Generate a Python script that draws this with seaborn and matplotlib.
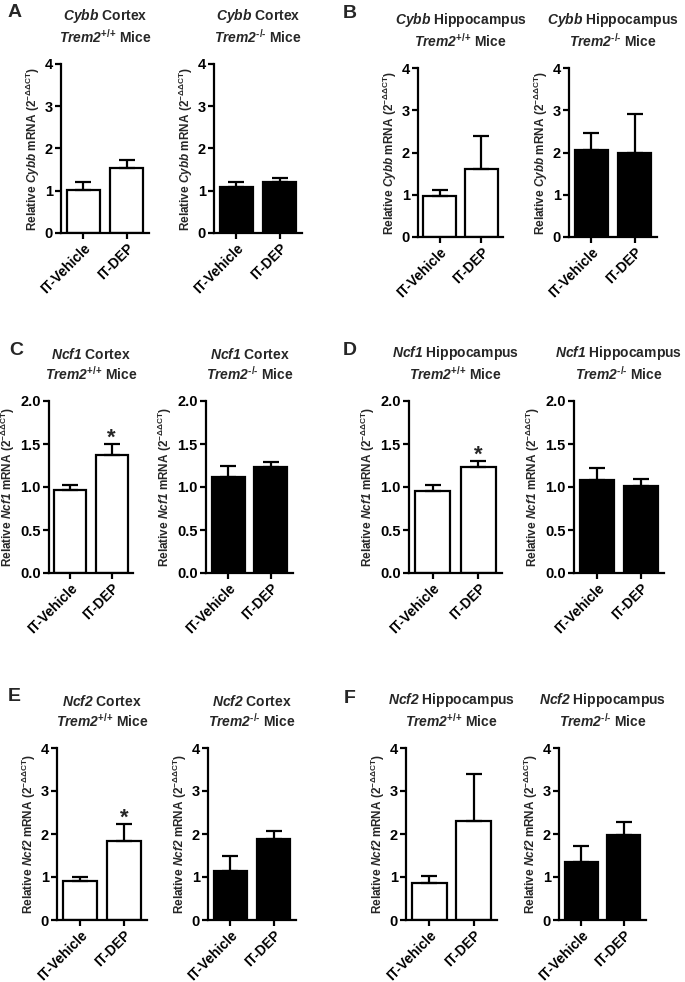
# Cybb / Ncf1 / Ncf2 expression, IT-Vehicle vs IT-DEP, Trem2 WT and KO mice
import numpy as np
import pandas as pd
import matplotlib
matplotlib.use('Agg')
import matplotlib.pyplot as plt
import seaborn as sns

# Data (mean and upper SEM)
groups = ['IT-Vehicle', 'IT-DEP']

cybb_cortex_wt = [1.01, 1.54]
cybb_cortex_wt_err = [0.19, 0.19]
cybb_cortex_ko = [1.09, 1.20]
cybb_cortex_ko_err = [0.12, 0.09]
cybb_hippo_wt = [0.96, 1.61]
cybb_hippo_wt_err = [0.16, 0.78]
cybb_hippo_ko = [2.06, 2.00]
cybb_hippo_ko_err = [0.41, 0.92]

ncf1_cortex_wt = [0.97, 1.37]
ncf1_cortex_wt_err = [0.05, 0.13]
ncf1_cortex_ko = [1.12, 1.23]
ncf1_cortex_ko_err = [0.13, 0.06]
ncf1_hippo_wt = [0.95, 1.23]
ncf1_hippo_wt_err = [0.07, 0.07]
ncf1_hippo_ko = [1.08, 1.01]
ncf1_hippo_ko_err = [0.14, 0.08]

ncf2_cortex_wt = [0.90, 1.83]
ncf2_cortex_wt_err = [0.09, 0.41]
ncf2_cortex_ko = [1.14, 1.89]
ncf2_cortex_ko_err = [0.36, 0.19]
ncf2_hippo_wt = [0.87, 2.30]
ncf2_hippo_wt_err = [0.16, 1.10]
ncf2_hippo_ko = [1.34, 1.97]
ncf2_hippo_ko_err = [0.39, 0.32]

# Style
sns.set_style('ticks')
plt.rcParams['font.family'] = ['Liberation Sans', 'DejaVu Sans']
plt.rcParams['font.weight'] = 'bold'
plt.rcParams['mathtext.fontset'] = 'custom'
plt.rcParams['mathtext.rm'] = 'Liberation Sans:bold'
plt.rcParams['mathtext.it'] = 'Liberation Sans:italic:bold'
plt.rcParams['mathtext.sf'] = 'Liberation Sans:italic:bold'
plt.rcParams['mathtext.bf'] = 'Liberation Sans:bold'
plt.rcParams['axes.linewidth'] = 1.6
plt.rcParams['axes.edgecolor'] = 'black'
plt.rcParams['xtick.color'] = 'black'
plt.rcParams['ytick.color'] = 'black'

W, H = 685, 982
fig = plt.figure(figsize=(W / 100, H / 100), dpi=100)


def px_axes(left, top, right, bottom):
    # axes placed with pixel coordinates measured from the top-left corner
    return fig.add_axes([left / W, 1 - bottom / H, (right - left) / W, (bottom - top) / H])


def draw_panel(ax, means, errs, gene, region, geno, fill, ymax, star=False):
    df = pd.DataFrame({'group': groups, 'value': means})
    sns.barplot(data=df, x='group', y='value', color=fill, saturation=1,
                edgecolor='black', linewidth=1.6, width=0.78, errorbar=None, ax=ax)
    ax.errorbar(x=[0, 1], y=means, yerr=[[0, 0], errs], fmt='none', ecolor='black',
                elinewidth=1.6, capsize=6, capthick=1.6)
    if star:
        ax.annotate('*', xy=(1, means[1] + errs[1]), xytext=(0, 0), textcoords='offset points',
                    ha='center', va='baseline', fontsize=16, fontweight='bold')

    ax.set_xlim(-0.52, 1.52)
    ax.set_ylim(0, ymax)
    if ymax == 2:
        ticks = np.arange(0, 2.01, 0.5)
        ax.set_yticks(ticks)
        ax.set_yticklabels([f'{t:.1f}' for t in ticks])
    else:
        ticks = np.arange(0, ymax + 1)
        ax.set_yticks(ticks)
        ax.set_yticklabels([f'{t:.0f}' for t in ticks])
    ax.set_xticks([0, 1])
    ax.set_xticklabels(groups, rotation=45, ha='right', rotation_mode='anchor', fontsize=10)
    ax.tick_params(axis='both', length=4, width=1.6, pad=2)
    ax.tick_params(axis='y', labelsize=10.5)
    sns.despine(ax=ax)

    ax.set_xlabel('')
    ax.set_ylabel(f'Relative $\\mathsf{{{gene}}}$ mRNA (2$^{{-\\Delta\\Delta \\mathrm{{CT}}}}$)',
                  fontsize=8.5, fontweight='bold', labelpad=2)
    ax.set_title(f'$\\mathsf{{{gene}}}$ {region}\n$\\mathsf{{Trem2}}^{{\\text{{{geno}}}}}$ Mice',
                 fontsize=10, fontweight='bold', pad=15, linespacing=1.25)


# Row 1: Cybb
ax = px_axes(61, 64, 149, 233)
draw_panel(ax, cybb_cortex_wt, cybb_cortex_wt_err, 'Cybb', 'Cortex', '+/+', 'white', 4)
ax = px_axes(214, 64, 302, 233)
draw_panel(ax, cybb_cortex_ko, cybb_cortex_ko_err, 'Cybb', 'Cortex', '-/-', 'black', 4)
ax = px_axes(418, 68, 503, 237)
draw_panel(ax, cybb_hippo_wt, cybb_hippo_wt_err, 'Cybb', 'Hippocampus', '+/+', 'white', 4)
ax = px_axes(569, 68, 657, 237)
draw_panel(ax, cybb_hippo_ko, cybb_hippo_ko_err, 'Cybb', 'Hippocampus', '-/-', 'black', 4)

# Row 2: Ncf1
ax = px_axes(49, 401, 133, 573)
draw_panel(ax, ncf1_cortex_wt, ncf1_cortex_wt_err, 'Ncf1', 'Cortex', '+/+', 'white', 2, star=True)
ax = px_axes(206, 401, 293, 573)
draw_panel(ax, ncf1_cortex_ko, ncf1_cortex_ko_err, 'Ncf1', 'Cortex', '-/-', 'black', 2)
ax = px_axes(409, 401, 502, 573)
draw_panel(ax, ncf1_hippo_wt, ncf1_hippo_wt_err, 'Ncf1', 'Hippocampus', '+/+', 'white', 2, star=True)
ax = px_axes(574, 401, 664, 573)
draw_panel(ax, ncf1_hippo_ko, ncf1_hippo_ko_err, 'Ncf1', 'Hippocampus', '-/-', 'black', 2)

# Row 3: Ncf2
ax = px_axes(57, 748, 147, 920)
draw_panel(ax, ncf2_cortex_wt, ncf2_cortex_wt_err, 'Ncf2', 'Cortex', '+/+', 'white', 4, star=True)
ax = px_axes(208, 748, 296, 920)
draw_panel(ax, ncf2_cortex_ko, ncf2_cortex_ko_err, 'Ncf2', 'Cortex', '-/-', 'black', 4)
ax = px_axes(406, 748, 497, 920)
draw_panel(ax, ncf2_hippo_wt, ncf2_hippo_wt_err, 'Ncf2', 'Hippocampus', '+/+', 'white', 4)
ax = px_axes(559, 748, 646, 920)
draw_panel(ax, ncf2_hippo_ko, ncf2_hippo_ko_err, 'Ncf2', 'Hippocampus', '-/-', 'black', 4)

# Panel letters
for letter, x, y in [('A', 8, 4), ('B', 343, 5), ('C', 9, 342), ('D', 343, 342),
                     ('E', 8, 688), ('F', 344, 690)]:
    fig.text(x / W, 1 - y / H, letter, fontsize=14, fontweight='bold', va='top', ha='left')

fig.savefig('out.png', dpi=100)
